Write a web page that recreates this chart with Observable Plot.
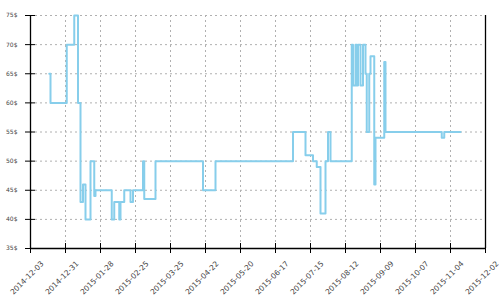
<!DOCTYPE html>
<html><head><meta charset="utf-8">
<script src="https://cdn.jsdelivr.net/npm/d3@7"></script>
<script src="https://cdn.jsdelivr.net/npm/@observablehq/plot@0.6"></script>
<style>html,body{margin:0;padding:0;background:#fff} svg{display:block}</style>
</head><body><div id="chart"></div>
<script>
const dates = ["2014-12-18","2014-12-19","2015-01-01","2015-01-07","2015-01-10","2015-01-12","2015-01-14","2015-01-16","2015-01-20","2015-01-23","2015-01-24","2015-02-06","2015-02-08","2015-02-12","2015-02-13","2015-02-16","2015-02-21","2015-02-23","2015-03-03","2015-03-04","2015-03-13","2015-04-20","2015-04-30","2015-07-01","2015-07-11","2015-07-17","2015-07-20","2015-07-23","2015-07-27","2015-07-29","2015-07-31","2015-08-17","2015-08-18","2015-08-20","2015-08-21","2015-08-22","2015-08-24","2015-08-26","2015-08-28","2015-08-29","2015-08-31","2015-09-01","2015-09-04","2015-09-05","2015-09-12","2015-09-13","2015-10-28","2015-10-30","2015-11-12"];
const prices = [65,60,70,75,60,43,46,40,50,44,45,40,43,40,43,45,43,45,50,43.5,50,45,50,55,51,50,49,41,50,55,50,70,63,70,63,70,63,70,65,55,65,68,46,54,67,55,54,55,55];
const xTickLabels = ["2014-12-03","2014-12-31","2015-01-28","2015-02-25","2015-03-25","2015-04-22","2015-05-20","2015-06-17","2015-07-15","2015-08-12","2015-09-09","2015-10-07","2015-11-04","2015-12-02"];
const yTicks = [35,40,45,50,55,60,65,70,75];

const data = dates.map((d, i) => ({date: new Date(d), price: prices[i]}));
const xT = xTickLabels.map(d => new Date(d));
const fmt = d3.utcFormat("%Y-%m-%d");

const chart = Plot.plot({
  width: 500, height: 300,
  marginLeft: 30, marginRight: 15, marginTop: 15, marginBottom: 52,
  style: {fontFamily: "DejaVu Sans", fontSize: "6px", color: "#333", background: "#fff"},
  x: {type: "utc", domain: [xT[0], xT[xT.length - 1]]},
  y: {domain: [35, 75]},
  marks: [
    Plot.gridX(xT, {stroke: "#b0b0b0", strokeOpacity: 1, strokeDasharray: "2,3"}),
    Plot.gridY(yTicks, {stroke: "#b0b0b0", strokeOpacity: 1, strokeDasharray: "2,3"}),
    Plot.ruleX([xT[0], xT[xT.length - 1]], {stroke: "#000", strokeWidth: 1.3}),
    Plot.ruleY([35], {stroke: "#000", strokeWidth: 1.3}),
    Plot.axisY(yTicks, {tickSize: 10, dx: 5, tickPadding: 8, tickFormat: d => d + "$", label: null, stroke: "#000", fill: "#444", fontSize: 6}),
    Plot.axisX(xT, {tickSize: 10, dy: -5, fill: "none", stroke: "#000", label: null}),
    Plot.axisX(xT, {tickSize: 0, tickPadding: 14, dx: 12, tickRotate: -45, tickFormat: fmt, label: null, fill: "#444", fontSize: 7.5}),
    Plot.line(data, {x: "date", y: "price", curve: "step-after", stroke: "#87ceeb", strokeWidth: 2})
  ]
});
document.getElementById("chart").append(chart);
</script>
</body></html>
